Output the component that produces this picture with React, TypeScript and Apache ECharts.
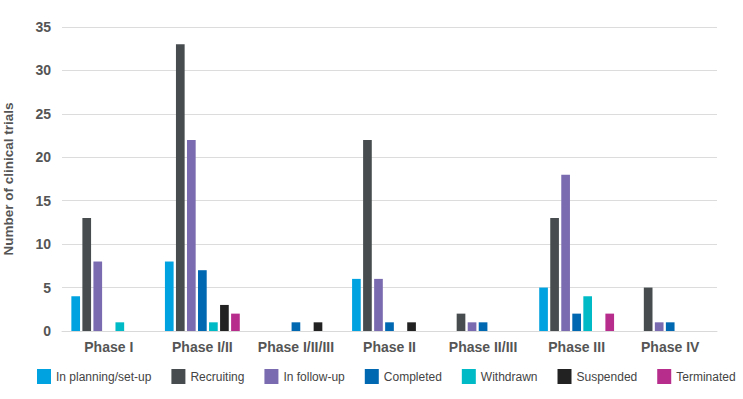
import React, { useEffect, useRef } from "react";
import * as echarts from "echarts";

const categories = ["Phase I", "Phase I/II", "Phase I/II/III", "Phase II", "Phase II/III", "Phase III", "Phase IV"];
const seriesNames = ["In planning/set-up", "Recruiting", "In follow-up", "Completed", "Withdrawn", "Suspended", "Terminated"];
const inPlanning = [4, 8, 0, 6, 0, 5, 0];
const recruiting = [13, 33, 0, 22, 2, 13, 5];
const inFollowUp = [8, 22, 0, 6, 1, 18, 1];
const completed = [0, 7, 1, 1, 1, 2, 1];
const withdrawn = [1, 1, 0, 0, 0, 4, 0];
const suspended = [0, 3, 1, 1, 0, 0, 0];
const terminated = [0, 2, 0, 0, 0, 2, 0];
const colors = ["#00A3E0", "#474D4F", "#7A6BB0", "#0067B1", "#00BAC6", "#222222", "#B72D8C"];

export default function App() {
  const ref = useRef<HTMLDivElement>(null);
  useEffect(() => {
    const chart = echarts.init(ref.current!, null, { renderer: "svg" });
    const values = [inPlanning, recruiting, inFollowUp, completed, withdrawn, suspended, terminated];
    const font = "'Liberation Sans', Arial, sans-serif";
    chart.setOption({
      animation: false,
      textStyle: { fontFamily: font },
      grid: { left: 62, right: 26, top: 27, bottom: 68, outerBoundsMode: "none", containLabel: false },
      legend: {
        left: 37,
        top: 369,
        padding: 0,
        itemWidth: 14,
        itemHeight: 15,
        itemGap: 20,
        icon: "rect",
        textStyle: { fontSize: 12, color: "#444", fontFamily: font },
        data: seriesNames,
      },
      xAxis: {
        type: "category",
        data: categories,
        axisLine: { lineStyle: { color: "#d9d9d9", width: 1 } },
        axisTick: { length: 28, lineStyle: { color: "#d9d9d9" } },
        axisLabel: { interval: 0, fontSize: 14, fontWeight: "bold", color: "#555", margin: 9, fontFamily: font },
      },
      yAxis: {
        type: "value",
        min: 0,
        max: 35,
        interval: 5,
        name: "Number of clinical trials",
        nameLocation: "middle",
        nameGap: 47,
        nameTextStyle: { fontSize: 13.5, fontWeight: "bold", color: "#555", fontFamily: font },
        axisLabel: { fontSize: 14, fontWeight: "bold", color: "#555", margin: 11, fontFamily: font },
        splitLine: { lineStyle: { color: "#dcdcdc", width: 1 } },
        axisLine: { show: false },
        axisTick: { show: false },
      },
      series: seriesNames.map((name, i) => ({
        name,
        type: "bar",
        data: values[i],
        barGap: "27%",
        barCategoryGap: "20%",
        itemStyle: { color: colors[i] },
      })),
    });
    return () => chart.dispose();
  }, []);
  return <div ref={ref} style={{ width: 743, height: 399, position: "absolute", left: 0, top: 0 }} />;
}
